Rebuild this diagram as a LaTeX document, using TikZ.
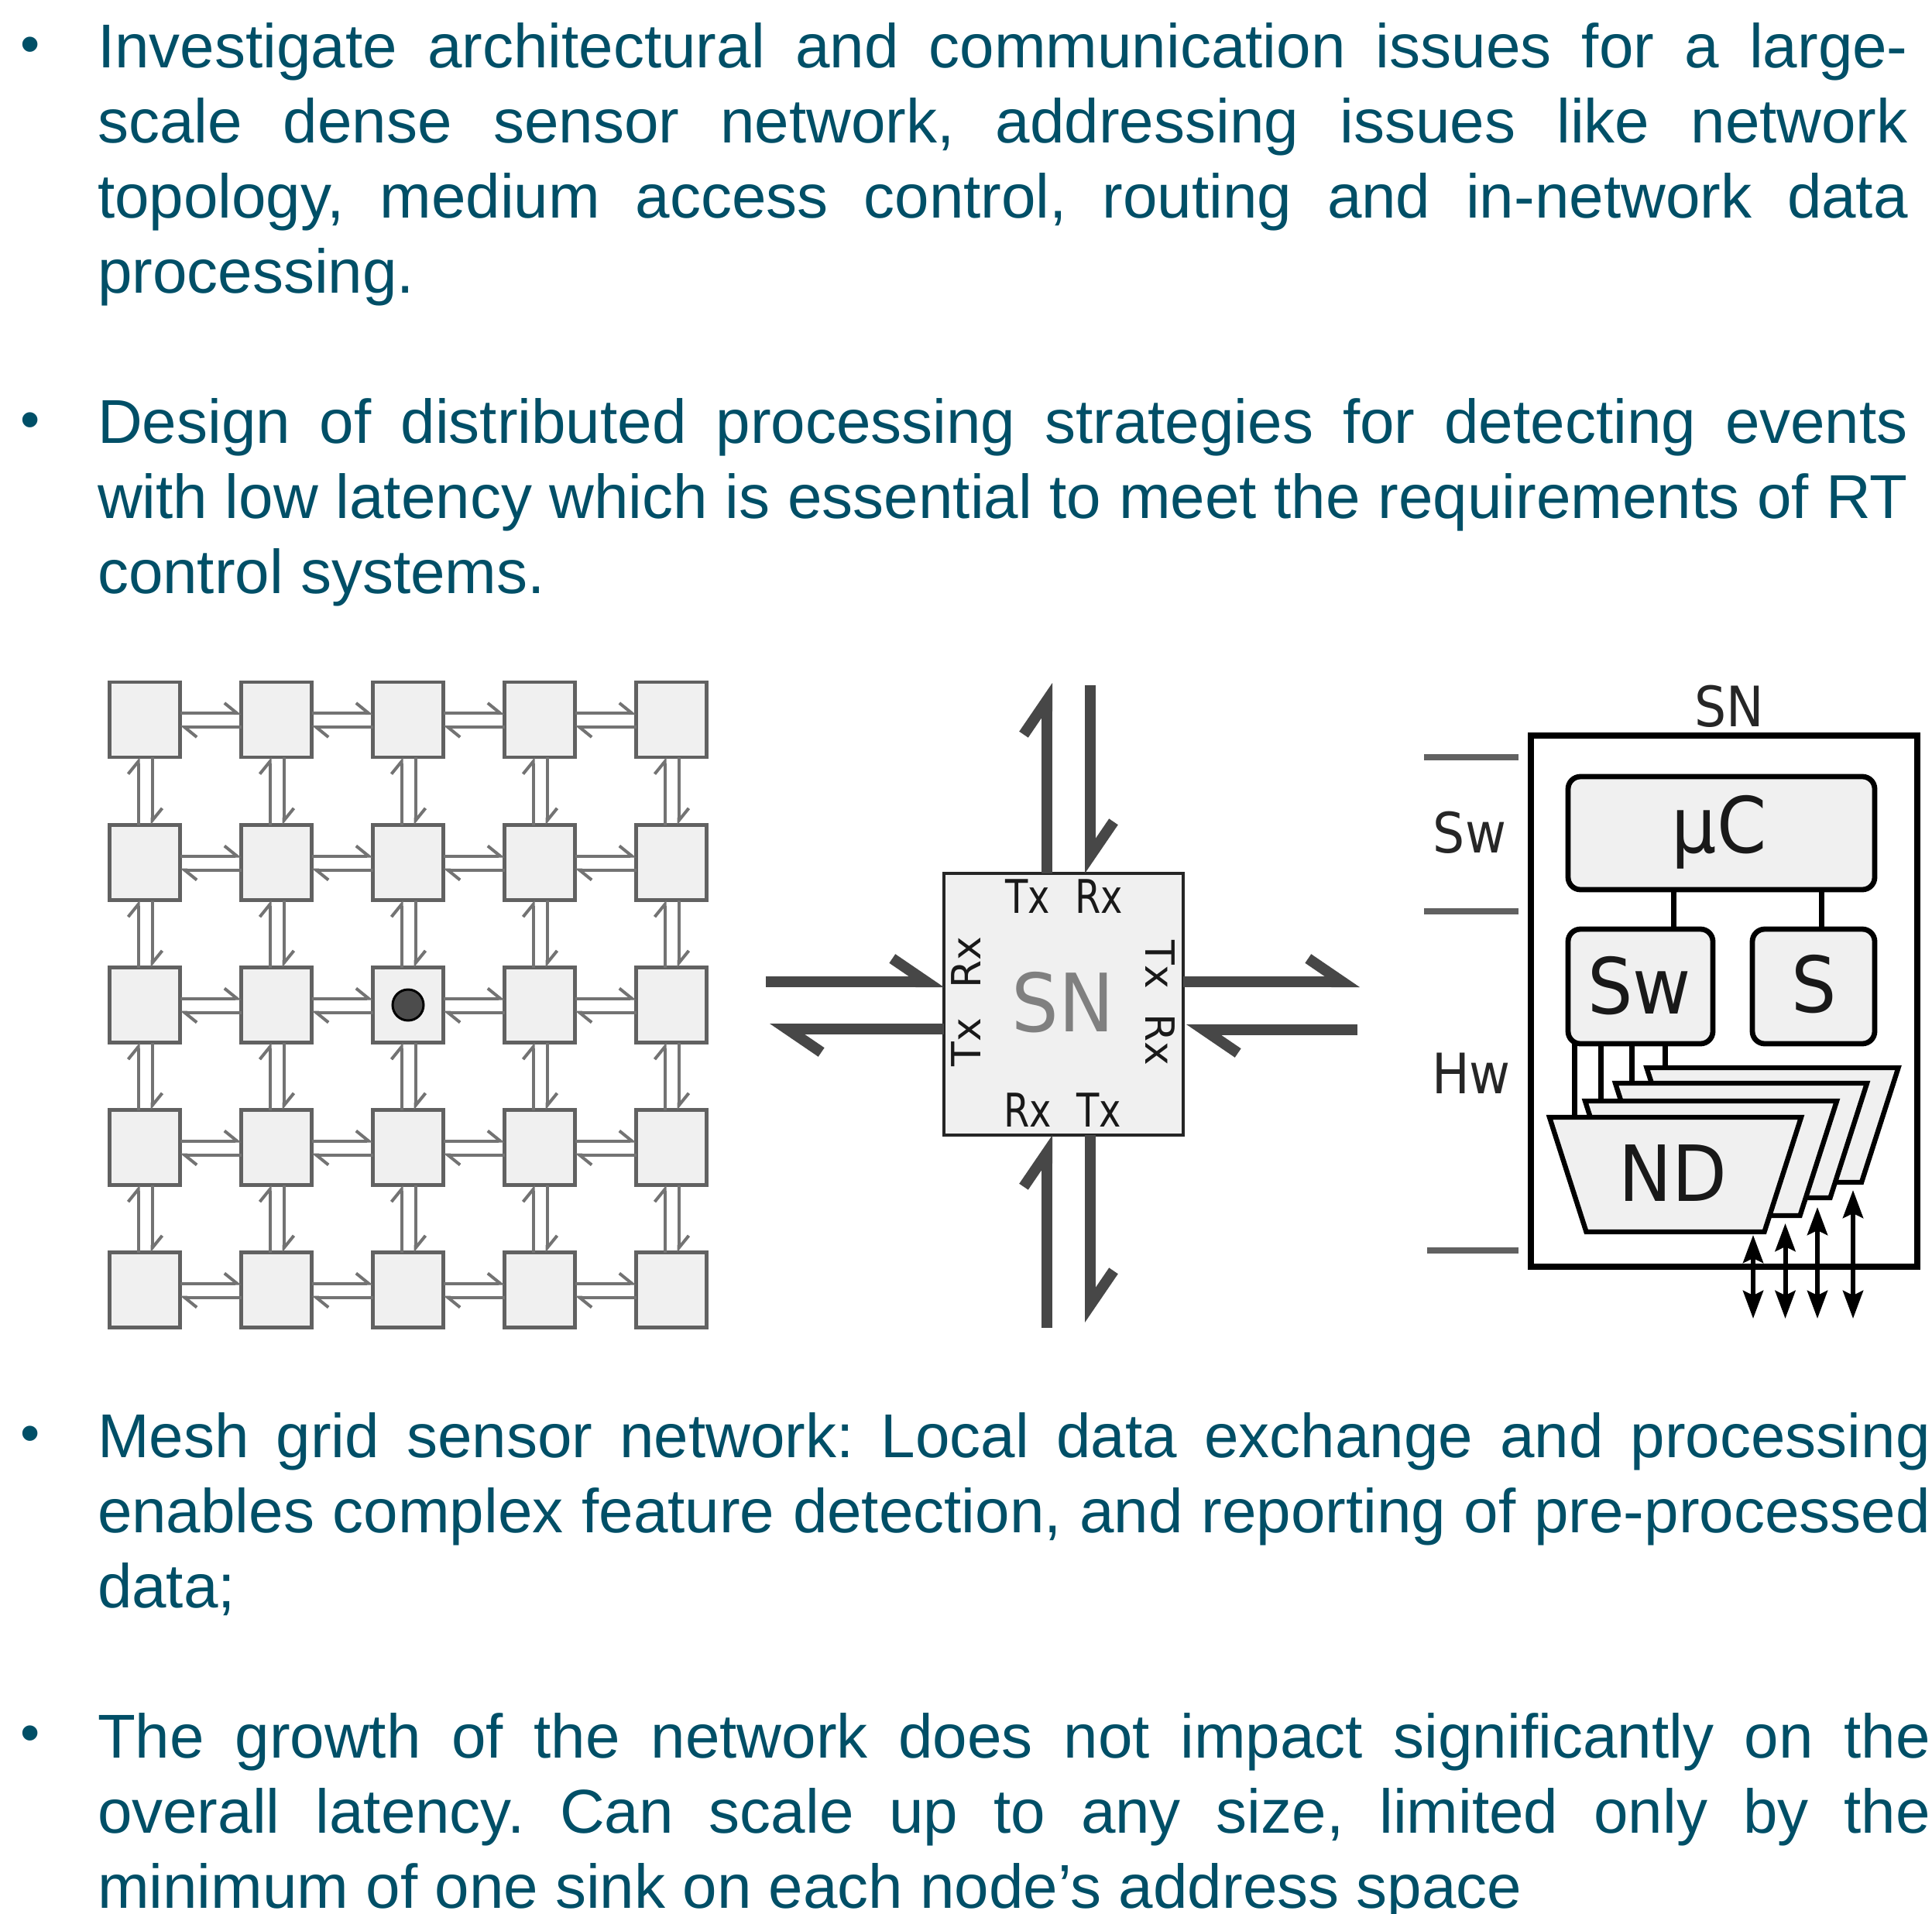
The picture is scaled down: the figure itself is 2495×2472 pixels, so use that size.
\documentclass[tikz,border=0pt]{standalone}
\usepackage{graphicx}
\usepackage{fontspec}
\setmainfont{Liberation Sans}
\newfontfamily\djv{DejaVu Sans}
\usetikzlibrary{arrows.meta,calc}
\definecolor{txt}{HTML}{004F67}
\definecolor{bx}{HTML}{F0F0F0}
\newcommand{\nrw}[2][.92]{\scalebox{#1}[1]{#2}}
\tikzset{
  para/.style={anchor=north west,inner sep=0pt,outer sep=0pt,text=txt,align=justify,font=\fontsize{40}{48.5}\selectfont\frenchspacing},
  bul/.style={anchor=center,inner sep=0pt,outer sep=0pt,text=txt,font=\fontsize{36}{38}\selectfont},
  cell/.style={draw=black!62,fill=bx,line width=2.3pt,minimum width=45.5pt,minimum height=48.5pt,inner sep=0pt,outer sep=0pt},
  thinh/.style={draw=black!55,line width=2pt,-{Straight Barb[harpoon,length=8pt,width=13pt]}},
  thickh/.style={draw=black!72,line width=7pt,-{Straight Barb[harpoon,length=22pt,width=30pt]}},
  port/.style={anchor=base,font=\djv\fontsize{30}{32}\selectfont,inner sep=0pt,text=black!90},
  vport/.style={font=\djv\fontsize{26}{28}\selectfont,inner sep=0pt,text=black!90},
  rbox/.style={draw=black,fill=bx,line width=3.4pt,rounded corners=8pt,inner sep=0pt,outer sep=0pt},
  blab/.style={anchor=base,font=\djv\fontsize{50}{54}\selectfont,inner sep=0pt,text=black!90},
  slab/.style={anchor=base,font=\djv\fontsize{36}{38}\selectfont,inner sep=0pt,text=black!85},
  tier/.style={draw=black!62,line width=4pt},
  wire/.style={draw=black,line width=3.5pt},
  trap/.style={draw=black,fill=bx,line width=3.2pt,line join=miter},
  bidir/.style={draw=black,line width=3pt,{Stealth[length=18pt,width=13pt,inset=3pt]}-{Stealth[length=18pt,width=13pt,inset=3pt]}},
}
\begin{document}
\begin{tikzpicture}[x=0.5pt,y=-0.5pt]
\useasboundingbox (0,0) rectangle (2495,2472);
% text
\node[bul] (b1) at (39,65) {•};
\node[para,text width=1169pt] (p1) at (126,20) {\strut Investigate architectural and communication issues for a large-\linebreak scale dense sensor network, addressing issues like network\linebreak topology, medium access control, routing and in-network data\linebreak processing.};
\node[bul] (b2) at (39,550) {•};
\node[para,text width=1169pt] (p2) at (126,504.5) {\strut Design of distributed processing strategies for detecting events\linebreak with low latency which is essential to meet the requirements of RT\linebreak control systems.};
\node[bul] (b3) at (39,1859) {•};
\node[para,text width=1183.5pt] (p3) at (126,1815) {\strut Mesh grid sensor network: Local data exchange and processing\linebreak enables complex feature detection, and reporting of pre-processed\linebreak data;};
\node[bul] (b4) at (39,2246) {•};
\node[para,text width=1183.5pt] (p4) at (126,2202.5) {\strut The growth of the network does not impact significantly on the\linebreak overall latency. Can scale up to any size, limited only by the\linebreak minimum of one sink on each node’s address space};
% mesh
\foreach \r/\y in {1/929.5,2/1114,3/1298,4/1482,5/1666}
  \foreach \c/\x in {1/187,2/357,3/527,4/697,5/867}
    \node[cell] (n\r\c) at (\x,\y) {};
\fill[black!70,draw=black,line width=1.5pt] (n33.center) circle (20);
\foreach \r in {1,...,5}
  \foreach \c/\d in {1/2,2/3,3/4,4/5} {
    \draw[thinh] ([yshift=4.25pt]n\r\c.east) -- ([yshift=4.25pt]n\r\d.west);
    \draw[thinh] ([yshift=-4.75pt]n\r\d.west) -- ([yshift=-4.75pt]n\r\c.east);
  }
\foreach \c in {1,...,5}
  \foreach \r/\s in {1/2,2/3,3/4,4/5} {
    \draw[thinh] ([xshift=-4.25pt]n\s\c.north) -- ([xshift=-4.25pt]n\r\c.south);
    \draw[thinh] ([xshift=4.75pt]n\r\c.south) -- ([xshift=4.75pt]n\s\c.north);
  }
% node detail
\node[draw=black!85,fill=bx,line width=2.2pt,minimum width=154.5pt,minimum height=169pt,inner sep=0pt,outer sep=0pt] (sn) at (1373.5,1297) {};
\node[anchor=base,font=\djv\fontsize{52}{56}\selectfont,text=black!50,inner sep=0pt] (snl) at (1373,1332) {\nrw{SN}};
\node[port] (tt) at (1327,1179) {\nrw[.8]{Tx}};
\node[port] (tr) at (1419,1179) {\nrw[.8]{Rx}};
\node[port] (br) at (1327,1455) {\nrw[.8]{Rx}};
\node[port] (bt) at (1419,1455) {\nrw[.8]{Tx}};
\node[vport,rotate=90] (lr) at (1248,1243) {Rx};
\node[vport,rotate=90] (lt) at (1248,1346) {Tx};
\node[vport,rotate=-90] (rt) at (1498,1246) {Tx};
\node[vport,rotate=-90] (rr) at (1498,1343) {Rx};
\coordinate (aL1) at (989,1268);
\coordinate (aL2) at (994,1329);
\coordinate (aR1) at (1756,1268);
\coordinate (aR2) at (1753,1330);
\coordinate (aT1) at (1352,882);
\coordinate (aT2) at (1408,885);
\coordinate (aB1) at (1352,1715);
\coordinate (aB2) at (1408,1708);
\draw[thickh] (aL1) -- (aL1 -| sn.west);
\draw[thickh] (aL2 -| sn.west) -- (aL2);
\draw[thickh] (aR1 -| sn.east) -- (aR1);
\draw[thickh] (aR2) -- ([xshift=2pt]aR2 -| sn.east);
\draw[thickh] (aT1 |- sn.north) -- (aT1);
\draw[thickh] (aT2) -- (aT2 |- sn.north);
\draw[thickh] (aB1) -- (aB1 |- sn.south);
\draw[thickh] (aB2 |- sn.south) -- (aB2);
% architecture
\node[draw=black,line width=4pt,minimum width=249.5pt,minimum height=343pt,inner sep=0pt,outer sep=0pt] (out) at (2226.5,1292.5) {};
\node[slab] (snt) at (2233,938) {\nrw[.9]{SN}};
\node[slab] (lsw) at (1898,1101) {\nrw[.9]{Sw}};
\node[slab] (lhw) at (1900,1412) {\nrw[.9]{Hw}};
\draw[tier] (1839,978) coordinate (t1a) -- (1961,978) coordinate (t1b);
\draw[tier] (t1a |- 0,1177) coordinate (t2a) -- (t1b |- 0,1177) coordinate (t2b);
\draw[tier] (1843,1615) coordinate (t3a) -- (t1b |- 0,1615) coordinate (t3b);
\node[rbox,minimum width=198pt,minimum height=73pt] (uc) at (2223,1076) {};
\node[blab] (ucl) at (2220,1101) {\nrw{μC}};
\node[rbox,minimum width=93.5pt,minimum height=74pt] (swb) at (2118.5,1274) {};
\node[blab] (swl) at (2117,1309) {\nrw{Sw}};
\node[rbox,minimum width=79pt,minimum height=74pt] (sb) at (2342,1274) {};
\node[blab] (sl) at (2343,1307) {\nrw{S}};
\draw[wire] (swb.north -| 2161,0) -- (uc.south -| 2161,0);
\draw[wire] (sb.north -| 2352.5,0) -- (uc.south -| 2352.5,0);
\coordinate (w1) at (2033,1443);
\coordinate (w2) at (2067.5,1422);
\coordinate (w3) at (2107.5,1399);
\coordinate (w4) at (2150.5,1379);
\draw[wire] (w1 |- swb.south) -- (w1);
\draw[wire] (w2 |- swb.south) -- (w2);
\draw[wire] (w3 |- swb.south) -- (w3);
\draw[wire] (w4 |- swb.south) -- (w4);
\foreach \x/\y in {2126.5/1379,2086/1399,2047/1422,2001/1443}
  \draw[trap] (\x,\y) -- ++(325,0) -- ++(-47.5,148) -- ++(-230,0) -- cycle;
\node[blab] (ndl) at (2160,1551) {\nrw{ND}};
\coordinate (d1) at (2264,1595);
\coordinate (d2) at (2305.5,1580);
\coordinate (d3) at (2347,1559);
\coordinate (d4) at (2393,1537);
\coordinate (e1) at (2264,1703);
\coordinate (e2) at (2305.5,1703);
\coordinate (e3) at (2347,1703);
\coordinate (e4) at (2393,1703);
\draw[bidir] (d1) -- (e1);
\draw[bidir] (d2) -- (e2);
\draw[bidir] (d3) -- (e3);
\draw[bidir] (d4) -- (e4);
\end{tikzpicture}
\end{document}
